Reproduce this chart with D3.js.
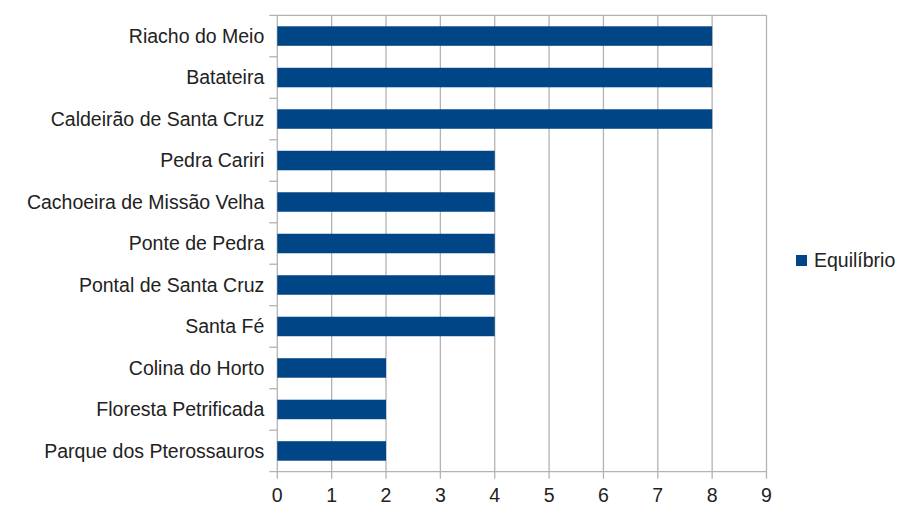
<!DOCTYPE html>
<html>
<head>
<meta charset="utf-8">
<script src="https://cdn.jsdelivr.net/npm/d3@7"></script>
<style>
  body { margin: 0; background: #fff; }
  text { font-family: "Liberation Sans", Arial, sans-serif; }
</style>
</head>
<body>
<div id="chart"></div>
<script>
const categories = ['Riacho do Meio', 'Batateira', 'Caldeirão de Santa Cruz', 'Pedra Cariri',
                    'Cachoeira de Missão Velha', 'Ponte de Pedra', 'Pontal de Santa Cruz', 'Santa Fé',
                    'Colina do Horto', 'Floresta Petrificada', 'Parque dos Pterossauros'];
const equilibrio = [8, 8, 8, 4, 4, 4, 4, 4, 2, 2, 2];
const seriesName = 'Equilíbrio';
const xTicks = [0, 1, 2, 3, 4, 5, 6, 7, 8, 9];

const width = 902,
      height = 513,
      plotLeft = 277.3,
      plotRight = 766.5,
      plotTop = 15.3,
      plotBottom = 471.7,
      fontSize = 19.5,
      grid = '#b3b3b3',
      barColor = '#004586';

const svg = d3.select('#chart')
              .append('svg')
              .attr('width', width)
              .attr('height', height);

const x = d3.scaleLinear()
            .domain([0, 9])
            .range([plotLeft, plotRight]);

const y = d3.scaleBand()
            .domain(categories)
            .range([plotTop, plotBottom])
            .paddingInner(0.53)
            .paddingOuter(0.265);

const yEdges = d3.scaleLinear()
                 .domain([0, categories.length])
                 .range([plotTop, plotBottom]);

// vertical gridlines
svg.append('g')
   .selectAll('line')
   .data(xTicks)
   .join('line')
   .attr('x1', d => x(d))
   .attr('x2', d => x(d))
   .attr('y1', plotTop)
   .attr('y2', plotBottom + 7)
   .attr('stroke', grid)
   .attr('stroke-width', 1.3);

// horizontal edges / category ticks
svg.append('g')
   .selectAll('line')
   .data(d3.range(categories.length + 1))
   .join('line')
   .attr('x1', plotLeft - 8)
   .attr('x2', d => (d === 0 || d === categories.length) ? plotRight : plotLeft)
   .attr('y1', d => yEdges(d))
   .attr('y2', d => yEdges(d))
   .attr('stroke', grid)
   .attr('stroke-width', 1.3);

// bars
svg.append('g')
   .selectAll('rect')
   .data(equilibrio)
   .join('rect')
   .attr('x', x(0))
   .attr('y', (d, i) => y(categories[i]))
   .attr('width', d => x(d) - x(0))
   .attr('height', y.bandwidth())
   .attr('fill', barColor);

// category labels
svg.append('g')
   .selectAll('text')
   .data(categories)
   .join('text')
   .attr('x', plotLeft - 13)
   .attr('y', d => y(d) + y.bandwidth() / 2)
   .attr('dy', '0.35em')
   .attr('text-anchor', 'end')
   .attr('font-size', fontSize)
   .attr('fill', '#222')
   .text(d => d);

// x tick labels
svg.append('g')
   .selectAll('text')
   .data(xTicks)
   .join('text')
   .attr('x', d => x(d))
   .attr('y', 502)
   .attr('text-anchor', 'middle')
   .attr('font-size', fontSize)
   .attr('fill', '#222')
   .text(d => d);

// legend
svg.append('rect')
   .attr('x', 796)
   .attr('y', 255)
   .attr('width', 11)
   .attr('height', 11)
   .attr('fill', barColor);

svg.append('text')
   .attr('x', 814)
   .attr('y', 267)
   .attr('font-size', fontSize)
   .attr('fill', '#222')
   .text(seriesName);
</script>
</body>
</html>
